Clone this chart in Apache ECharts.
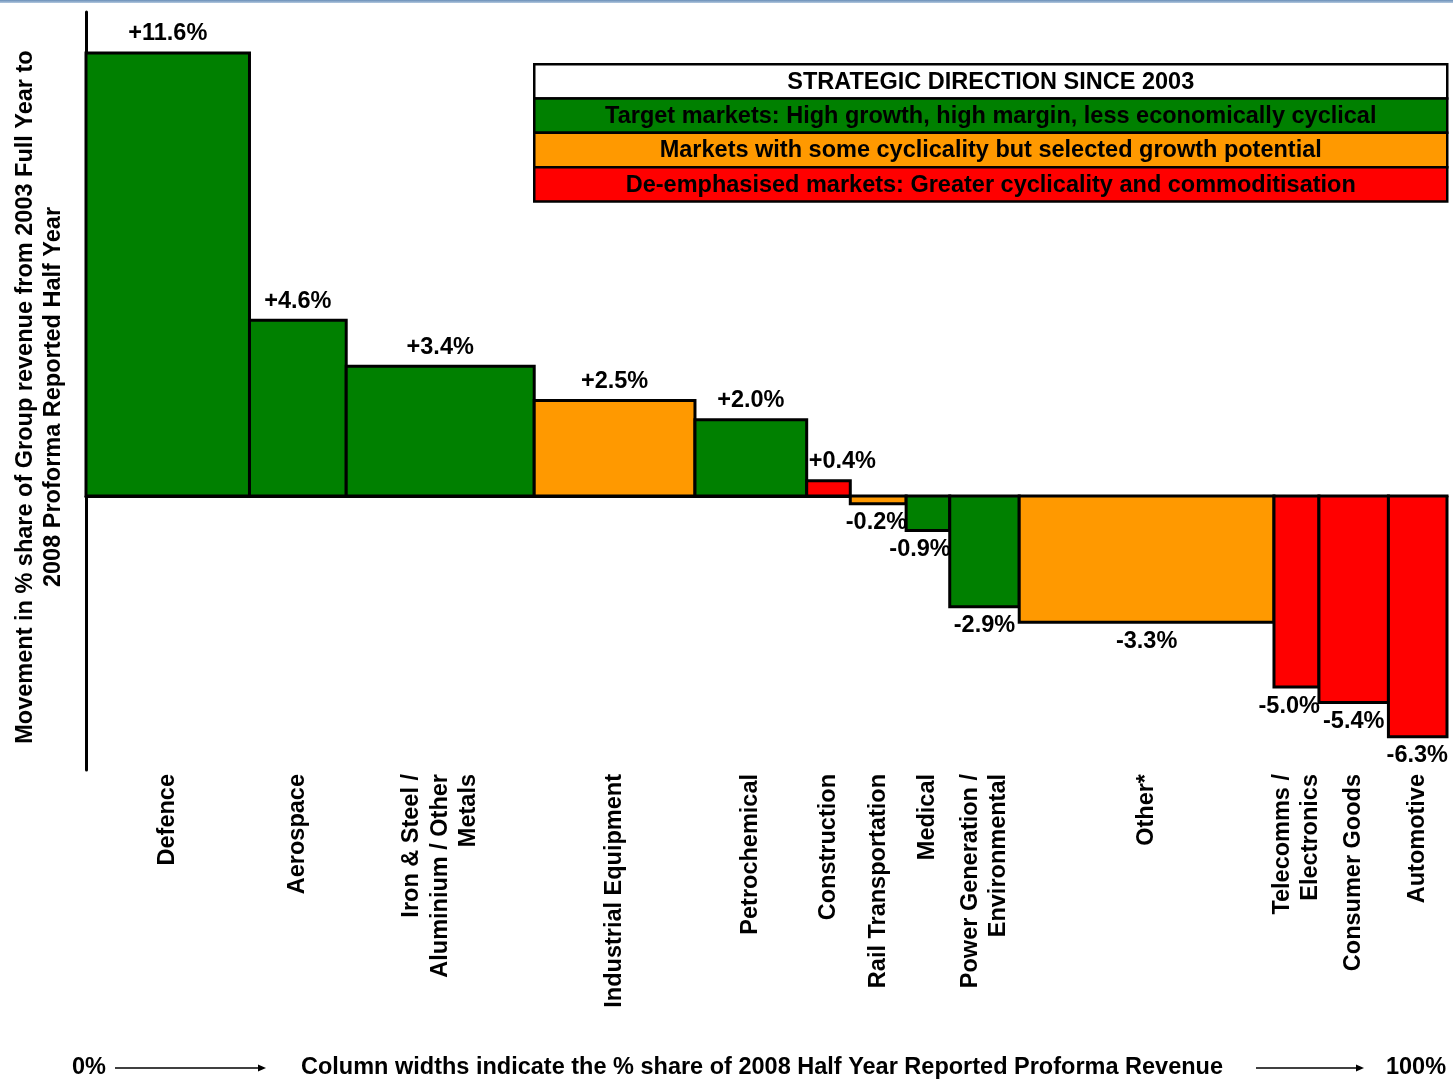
<!DOCTYPE html>
<html>
<head>
<meta charset="utf-8">
<title>Strategic direction since 2003</title>
<script src="https://cdn.jsdelivr.net/npm/echarts/dist/echarts.min.js"></script>
<style>
  html, body { margin: 0; padding: 0; background: #ffffff; }
  #chart { width: 1453px; height: 1080px; }
</style>
</head>
<body>
<div id="chart"></div>
<script>
// Market segments, left to right
const markets = [
  'Defence',
  'Aerospace',
  'Iron & Steel /\nAluminium / Other\nMetals',
  'Industrial Equipment',
  'Petrochemical',
  'Construction',
  'Rail Transportation',
  'Medical',
  'Power Generation /\nEnvironmental',
  'Other*',
  'Telecomms /\nElectronics',
  'Consumer Goods',
  'Automotive'
];

// Column widths: % share of 2008 half year reported proforma revenue
const revenueShare = [12.0, 7.1, 13.8, 11.8, 8.2, 3.2, 4.1, 3.2, 5.1, 18.7, 3.3, 5.1, 4.3];

// Column heights: movement in % share of group revenue, 2003 FY to 2008 HY
const shareMovement = [11.6, 4.6, 3.4, 2.5, 2.0, 0.4, -0.2, -0.9, -2.9, -3.3, -5.0, -5.4, -6.3];

// Strategic direction of each market
const direction = ['target', 'target', 'target', 'selective', 'target', 'deemphasised',
  'selective', 'target', 'target', 'selective', 'deemphasised', 'deemphasised', 'deemphasised'];

const directionColors = {
  target: '#008000',
  selective: '#FF9900',
  deemphasised: '#FF0000'
};

const legendRows = [
  { text: 'STRATEGIC DIRECTION SINCE 2003', fill: '#FFFFFF' },
  { text: 'Target markets: High growth, high margin, less economically cyclical', fill: directionColors.target },
  { text: 'Markets with some cyclicality but selected growth potential', fill: directionColors.selective },
  { text: 'De-emphasised markets: Greater cyclicality and commoditisation', fill: directionColors.deemphasised }
];

const FONT = '"Liberation Sans", Arial, Helvetica, sans-serif';
const TEXT_FONT = 'bold 23.5px ' + FONT;

// Build [start, end, value, index] rows from the widths
let cumulative = 0;
const columns = revenueShare.map((w, i) => {
  const row = [cumulative, cumulative + w, shareMovement[i], i];
  cumulative += w;
  return row;
});
const totalShare = cumulative;

function fmtPct(v) {
  return (v > 0 ? '+' : '') + v.toFixed(1) + '%';
}

function renderColumn(params, api) {
  const i = api.value(3);
  const v = api.value(2);
  const p0 = api.coord([api.value(0), 0]);
  const p1 = api.coord([api.value(1), v]);
  const x = p0[0];
  const w = p1[0] - p0[0];
  const yTop = Math.min(p0[1], p1[1]);
  const h = Math.abs(p1[1] - p0[1]);
  const cs = params.coordSys;
  const axisBottom = cs.y + cs.height;

  // value label: centred over wide columns; over narrow ones it hangs
  // from the outer edge so it stays clear of its neighbours
  const label = fmtPct(v);
  const labelWidth = echarts.format.getTextRect
    ? echarts.format.getTextRect(label, TEXT_FONT).width
    : 62;
  let lx = x + w / 2, align = 'center';
  if (labelWidth > w) {
    if (v >= 0) { lx = x + 2; align = 'left'; }
    else { lx = x + w + 1; align = 'right'; }
  }

  return {
    type: 'group',
    children: [
      {
        type: 'rect',
        shape: { x: x, y: yTop, width: w, height: h },
        style: { fill: directionColors[direction[i]], stroke: '#000', lineWidth: 3 }
      },
      {
        type: 'text',
        x: lx,
        y: v >= 0 ? p1[1] - 19 : p1[1] + 19,
        style: {
          text: label,
          fill: '#000',
          font: TEXT_FONT,
          textAlign: align,
          textVerticalAlign: 'middle'
        }
      },
      {
        type: 'text',
        x: x + w / 2,
        y: axisBottom + 4,
        rotation: Math.PI / 2,
        style: {
          text: markets[i],
          fill: '#000',
          font: TEXT_FONT,
          lineHeight: 28.5,
          textAlign: 'right',
          textVerticalAlign: 'middle'
        }
      }
    ]
  };
}

// Legend table describing the colour coding
const legendLeft = 533, legendTop = 63, legendWidth = 913, rowHeight = 34.3;
const legendGraphics = legendRows.map((r, k) => ({
  type: 'group',
  left: legendLeft,
  top: legendTop + k * rowHeight,
  children: [
    {
      type: 'rect',
      shape: { x: 0, y: 0, width: legendWidth, height: rowHeight },
      style: { fill: r.fill, stroke: '#000', lineWidth: 2.5 }
    },
    {
      type: 'text',
      x: legendWidth / 2,
      y: rowHeight / 2 + 1,
      style: {
        text: r.text,
        fill: '#000',
        font: TEXT_FONT,
        textAlign: 'center',
        textVerticalAlign: 'middle'
      }
    }
  ]
}));

function arrow(x1, x2, y) {
  return [
    { type: 'line', shape: { x1: x1, y1: y, x2: x2 - 6, y2: y }, style: { stroke: '#000', lineWidth: 1.5 } },
    { type: 'polygon', shape: { points: [[x2 - 8, y - 3.5], [x2, y], [x2 - 8, y + 3.5]] }, style: { fill: '#000' } }
  ];
}

const footY = 1068;
const graphics = [
  // thin band along the top edge
  {
    type: 'rect',
    shape: { x: 0, y: 0, width: 1453, height: 3 },
    style: {
      fill: new echarts.graphic.LinearGradient(0, 0, 0, 1, [
        { offset: 0, color: '#6a8fb8' },
        { offset: 1, color: '#b3c8df' }
      ])
    }
  },
  // y axis title
  {
    type: 'text',
    x: 40,
    y: 397,
    rotation: Math.PI / 2,
    style: {
      text: 'Movement in % share of Group revenue from 2003 Full Year to\n2008 Proforma Reported Half Year',
      fill: '#000',
      font: TEXT_FONT,
      lineHeight: 28,
      textAlign: 'center',
      textVerticalAlign: 'middle'
    }
  },
  ...legendGraphics,
  // x axis explanation along the bottom
  {
    type: 'text', x: 89, y: footY,
    style: { text: '0%', fill: '#000', font: TEXT_FONT, textAlign: 'center', textVerticalAlign: 'middle' }
  },
  ...arrow(115, 266, footY),
  {
    type: 'text', x: 762, y: footY,
    style: {
      text: 'Column widths indicate the % share of 2008 Half Year Reported Proforma Revenue',
      fill: '#000', font: TEXT_FONT, textAlign: 'center', textVerticalAlign: 'middle'
    }
  },
  ...arrow(1256, 1364, footY),
  {
    type: 'text', x: 1416, y: footY,
    style: { text: '100%', fill: '#000', font: TEXT_FONT, textAlign: 'center', textVerticalAlign: 'middle' }
  }
];

const chart = echarts.init(document.getElementById('chart'), null, { renderer: 'canvas' });
chart.setOption({
  animation: false,
  backgroundColor: '#ffffff',
  grid: { left: 86, right: 6, top: 12, bottom: 310 },
  xAxis: {
    type: 'value',
    min: 0,
    max: totalShare,
    axisLine: { show: true, onZero: true, lineStyle: { color: '#000', width: 3 } },
    axisTick: { show: false },
    axisLabel: { show: false },
    splitLine: { show: false }
  },
  yAxis: {
    type: 'value',
    min: -7.17,
    max: 12.67,
    axisLine: { show: true, lineStyle: { color: '#000', width: 3 } },
    axisTick: { show: false },
    axisLabel: { show: false },
    splitLine: { show: false }
  },
  series: [{
    type: 'custom',
    renderItem: renderColumn,
    encode: { x: [0, 1], y: 2 },
    data: columns,
    z: 1
  }],
  graphic: graphics
});
</script>
</body>
</html>
